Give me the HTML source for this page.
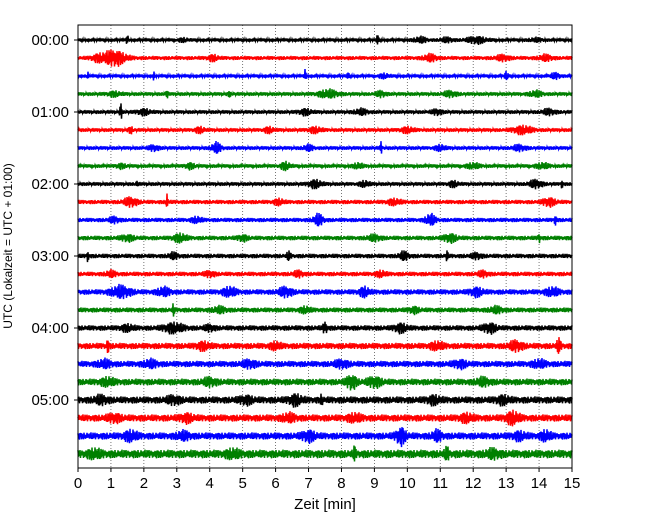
<!DOCTYPE html>
<html><head><meta charset="utf-8"><style>
body{margin:0;background:#fff;}
svg{display:block;font-family:"Liberation Sans","DejaVu Sans",sans-serif;}
</style></head><body>
<svg id="c" width="650" height="520" xmlns="http://www.w3.org/2000/svg">
<rect width="650" height="520" fill="#fff"/>
<g id="grid"></g><g id="traces"></g><g id="axes"></g>
<text x="325" y="509" text-anchor="middle" font-size="15">Zeit  [min]</text>
<text transform="translate(12,246) rotate(-90)" text-anchor="middle" font-size="12">UTC (Lokalzeit = UTC + 01:00)</text>
</svg>
<script>
const xTicks=[0,1,2,3,4,5,6,7,8,9,10,11,12,13,14,15];
const yLabels=["00:00","01:00","02:00","03:00","04:00","05:00"];
const colors=["#000","#f00","#00f","#008000"];
// base noise half-amplitude (px) per trace row
const baseAmp=[1.6,1.9,1.6,1.8,1.8,1.8,1.8,1.7,1.8,2.0,2.0,2.1,2.1,2.1,2.5,2.3,2.5,2.9,2.9,3.1,3.3,3.3,3.3,3.9];
// events per row: [minute, half-amplitude px, width min]
const events=[
[[1.5,5,.03],[3.2,1.5,.15],[9.1,5,.03],[10.4,2.5,.2],[11.2,2,.2],[12.1,3,.3],[13.9,1.5,.2]],
[[1.1,7,.35],[0.6,2.5,.2],[4.1,2.5,.15],[10.7,3,.2],[12.9,2.5,.2],[14.2,2.5,.2]],
[[0.3,3,.03],[2.3,3,.03],[6.9,7,.03],[8.2,3,.03],[9.3,2,.15],[13,3,.06],[14.5,2.5,.15]],
[[1.1,2,.2],[2.7,5,.03],[4.6,3,.03],[7.6,3.5,.3],[9.2,2.5,.15],[11.3,2.5,.2],[13.9,2.5,.2]],
[[1.3,8,.03],[2.0,2.5,.2],[6.9,2.5,.2],[8.6,2.5,.2],[10.9,2.5,.15],[14.3,2.5,.2]],
[[1.6,3,.06],[3.7,2.5,.15],[5.8,2.5,.15],[7.2,2.5,.2],[10.0,2.5,.2],[13.5,3.5,.3]],
[[2.3,2.5,.15],[4.2,4.5,.15],[7.0,2.5,.15],[9.2,5,.03],[11.0,2.5,.15],[13.4,2.5,.2]],
[[1.3,2,.15],[3.4,2.5,.15],[6.3,3.5,.15],[8.5,2.5,.15],[12.0,2.5,.2],[14.1,2.5,.2]],
[[1.8,3,.03],[7.2,3.5,.2],[8.7,2.5,.15],[11.4,2.5,.15],[13.9,3.5,.2],[14.7,4,.03]],
[[1.6,4,.2],[2.7,7,.03],[6.1,2.5,.15],[9.6,2.5,.2],[14.3,3.5,.2]],
[[1.1,2.5,.15],[3.6,2.5,.15],[7.3,5,.15],[10.7,5,.15],[14.5,6,.03]],
[[1.5,2.5,.2],[3.1,3.5,.2],[5.0,2.5,.15],[9.0,2.5,.2],[11.3,3.5,.2],[14.0,4,.03]],
[[0.3,5,.03],[2.9,2.5,.15],[6.4,3.5,.06],[9.9,3.5,.15],[11.2,5,.03],[12.1,2.5,.15]],
[[1.0,2.5,.15],[4.0,2.5,.15],[6.7,2.5,.15],[9.2,2.5,.15],[12.3,2.5,.15]],
[[1.3,5,.3],[2.6,3.5,.2],[4.6,4,.2],[6.3,4,.2],[8.7,4,.15],[12.1,3.5,.2],[14.4,3.5,.2]],
[[2.9,5,.03],[4.3,2.5,.2],[6.9,2.5,.15],[10.2,2.5,.15],[12.7,2.5,.2]],
[[1.5,2.5,.2],[2.9,4,.3],[4.0,2.5,.15],[7.5,5,.06],[9.8,3.5,.2],[12.5,4,.2]],
[[0.9,6,.03],[3.8,3,.2],[6.0,3,.15],[10.9,3,.2],[13.3,4,.2],[14.6,6,.06]],
[[0.8,3,.2],[2.2,3,.2],[5.2,3,.2],[8.0,3,.2],[11.6,3,.2],[14.0,3,.2]],
[[0.9,3,.2],[4.0,3,.2],[8.3,6,.15],[9.0,4,.2],[12.3,3,.2]],
[[0.7,3,.2],[2.9,3,.2],[5.1,3,.2],[6.6,4,.2],[7.4,5,.03],[10.8,3,.2],[12.9,3,.2]],
[[1.1,3,.2],[3.3,3,.2],[6.4,3,.2],[8.4,3,.2],[11.8,3,.2],[13.2,5,.2]],
[[1.6,4,.2],[3.2,3,.2],[7.0,4,.2],[9.8,7,.15],[10.9,4,.15],[13.4,3,.2],[14.2,4,.15]],
[[0.5,3,.2],[4.7,3,.2],[8.4,7,.03],[11.2,5,.06],[12.6,3,.2]]
];
// fixed jitter multipliers for waveform texture (length 23, coprime with step 7)
const texture=[1,.6,.9,.4,.8,1,.5,.7,.95,.3,.85,.65,1,.45,.75,.55,.9,.35,1.1,.6,.8,.5,.7];
const X0=78,X1=572,Y0=25,Y1=468,ROW0=40,ROWH=18;
const xs=m=>X0+(m-xTicks[0])/(xTicks[xTicks.length-1]-xTicks[0])*(X1-X0);
const ys=i=>ROW0+i*ROWH;
const NS="http://www.w3.org/2000/svg";
function mk(t,a,p){const e=document.createElementNS(NS,t);for(const k in a)e.setAttribute(k,a[k]);p.appendChild(e);return e;}
const grid=document.getElementById('grid'),axes=document.getElementById('axes'),tr=document.getElementById('traces');
xTicks.forEach(t=>{
 if(t>xTicks[0]&&t<xTicks[xTicks.length-1]){const g=mk('line',{x1:xs(t),x2:xs(t),y1:Y0,y2:Y1,stroke:'#555','stroke-width':.8,'stroke-dasharray':'1,2'},grid);
 
 }
 const tk=mk('line',{x1:xs(t),x2:xs(t),y1:Y1,y2:Y1+4,stroke:'#000'},axes);
 
 
 const l=mk('text',{x:xs(t),y:Y1+20,'text-anchor':'middle','font-size':15},axes);l.textContent=t;
 
 
});
yLabels.forEach((s,i)=>{const y=ys(i*4);
 const tk=mk('line',{x1:X0-4,x2:X0,y1:y,y2:y,stroke:'#000'},axes);
 
 
 const l=mk('text',{x:X0-9,y:y+5,'text-anchor':'end','font-size':15},axes);l.textContent=s;
 
 
});
const frame=mk('rect',{x:X0,y:Y0,width:X1-X0,height:Y1-Y0,fill:'none',stroke:'#000','stroke-width':1},axes);


const span=xTicks[xTicks.length-1]-xTicks[0];
baseAmp.forEach((b,i)=>{
 const y0=ys(i);let d='';let k=0;
 for(let px=X0;px<=X1;px+=0.5,k++){
  const m=(px-X0)/(X1-X0)*span;let a=b;
  events[i].forEach(([c,amp,w])=>{const z=(m-c)/w;a+=amp*Math.exp(-z*z);});
  const v=(k%2?1:-1)*a*texture[(k*7+i*3)%texture.length];
  d+=(k?'L':'M')+px.toFixed(1)+','+(y0+v).toFixed(2);
 }
 const p=mk('path',{d:d,fill:'none',stroke:colors[i%4],'stroke-width':1.5},tr);
 
 
});
</script>
</body></html>
